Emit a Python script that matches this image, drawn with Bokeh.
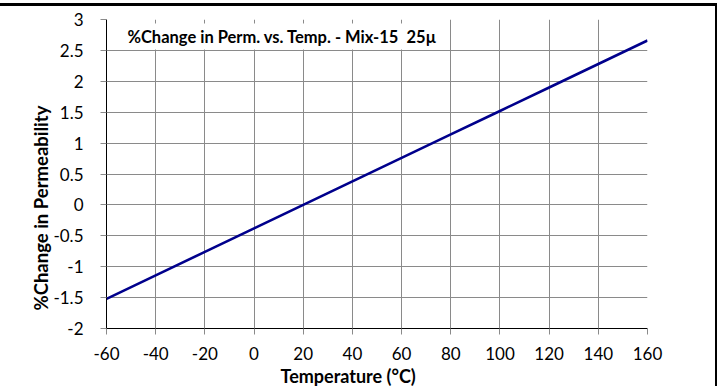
from bokeh.plotting import figure
from bokeh.models import FixedTicker, Label, BoxAnnotation, Title
from bokeh.embed import file_html
from bokeh.resources import INLINE

# ---- data ----
temperature = [-60, -40, -20, 0, 20, 40, 60, 80, 100, 120, 140, 160]
perm_change = [-1.52, -1.14, -0.76, -0.38, 0.0, 0.38, 0.76, 1.14, 1.52, 1.90, 2.28, 2.66]

x_ticks = [-60, -40, -20, 0, 20, 40, 60, 80, 100, 120, 140, 160]
y_ticks = [-2, -1.5, -1, -0.5, 0, 0.5, 1, 1.5, 2, 2.5, 3]
y_tick_labels = ["-2", "-1.5", "-1", "-0.5", "0", "0.5", "1", "1.5", "2", "2.5", "3"]

chart_title = "%Change in Perm. vs. Temp. - Mix-15 \u00a025µ"
x_title = "Temperature (°C)"
y_title = "%Change in Permeability"

FONT = "Lato"
GRID = "#8a8a8a"

p = figure(width=717, height=383, output_backend="svg", toolbar_location=None,
           x_range=(-60, 160), y_range=(-2, 3),
           min_border_left=106, min_border_right=70,
           min_border_top=13, min_border_bottom=61)
p.styles = {"margin-top": "3px", "border-top": "3px solid #000000",
            "border-right": "2px solid #000000"}
p.outline_line_color = None
p.background_fill_color = "white"
p.border_fill_color = "white"

p.line(temperature, perm_change, line_color="#00008c", line_width=2.6)

for ax in (p.xaxis[0], p.yaxis[0]):
    ax.axis_line_color = "black"
    ax.axis_line_width = 1
    ax.major_tick_line_color = GRID
    ax.major_tick_out = 6
    ax.major_tick_in = 0
    ax.minor_tick_line_color = None
    ax.major_label_text_font = FONT
    ax.major_label_text_font_size = "17px"
    ax.major_label_text_color = "black"

p.xaxis.ticker = FixedTicker(ticks=x_ticks)
p.xaxis.major_label_overrides = {t: str(t) for t in x_ticks}
p.xaxis.major_label_standoff = 12
p.yaxis.ticker = FixedTicker(ticks=y_ticks)
p.yaxis.major_label_overrides = {t: l for t, l in zip(y_ticks, y_tick_labels)}
p.yaxis.major_label_standoff = 17

p.xgrid.ticker = FixedTicker(ticks=x_ticks)
p.ygrid.ticker = FixedTicker(ticks=y_ticks)
for g in (p.xgrid[0], p.ygrid[0]):
    g.grid_line_color = GRID
    g.grid_line_width = 1

# title box (white background inside the plot area)
p.add_layout(BoxAnnotation(left=-59.8, right=78.3, top=2.935, bottom=2.515,
                           fill_color="white", fill_alpha=1.0, line_color=None,
                           level="underlay"))
p.add_layout(Label(x=-51.5, y=2.72, text=chart_title, text_font=FONT,
                   text_font_style="bold", text_font_size="16.5px",
                   text_align="left", text_baseline="alphabetic", text_color="black"))

# axis titles, placed like the reference (centred on the chart area)
p.add_layout(Title(text=x_title, align="left", offset=174, standoff=0,
                   text_font=FONT, text_font_style="bold", text_font_size="18px",
                   text_color="black"), "below")
p.add_layout(Title(text=y_title, align="left", offset=18, standoff=-3,
                   text_font=FONT, text_font_style="bold", text_font_size="18.5px",
                   text_color="black"), "left")

open("out.html", "w").write(file_html(p, INLINE))
